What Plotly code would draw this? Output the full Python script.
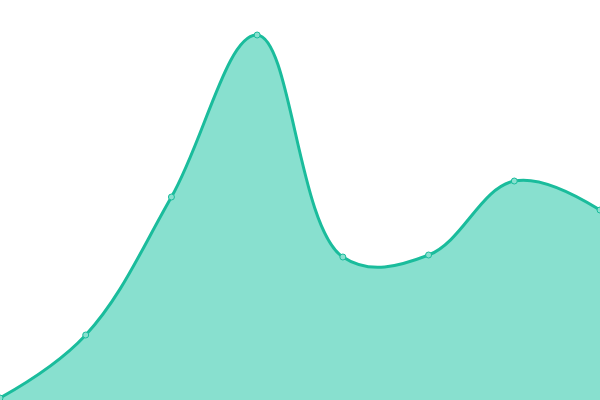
import plotly.graph_objects as go

x_values = [0, 1, 2, 3, 4, 5, 6, 7]
y_values = [2, 65, 203, 365, 143, 145, 219, 190]

line_color = '#1abc9c'
fill_color = '#88e0cf'

trace = go.Scatter(
    x=x_values,
    y=y_values,
    mode='lines+markers',
    line=dict(color=line_color, width=3, shape='spline', smoothing=1.1),
    marker=dict(size=6, color=fill_color, line=dict(color=line_color, width=1)),
    fill='tozeroy',
    fillcolor=fill_color,
    hoverinfo='skip',
)

layout = go.Layout(
    width=600,
    height=400,
    margin=dict(l=0, r=0, t=0, b=0),
    paper_bgcolor='white',
    plot_bgcolor='white',
    showlegend=False,
    xaxis=dict(range=[0, 7], visible=False, fixedrange=True),
    yaxis=dict(range=[0, 400], visible=False, fixedrange=True),
)

fig = go.Figure(data=[trace], layout=layout)
# drop the default page margin so the chart fills the window
fig.write_html('out.html', config={'displayModeBar': False},
               post_script="document.body.style.margin='0';")
